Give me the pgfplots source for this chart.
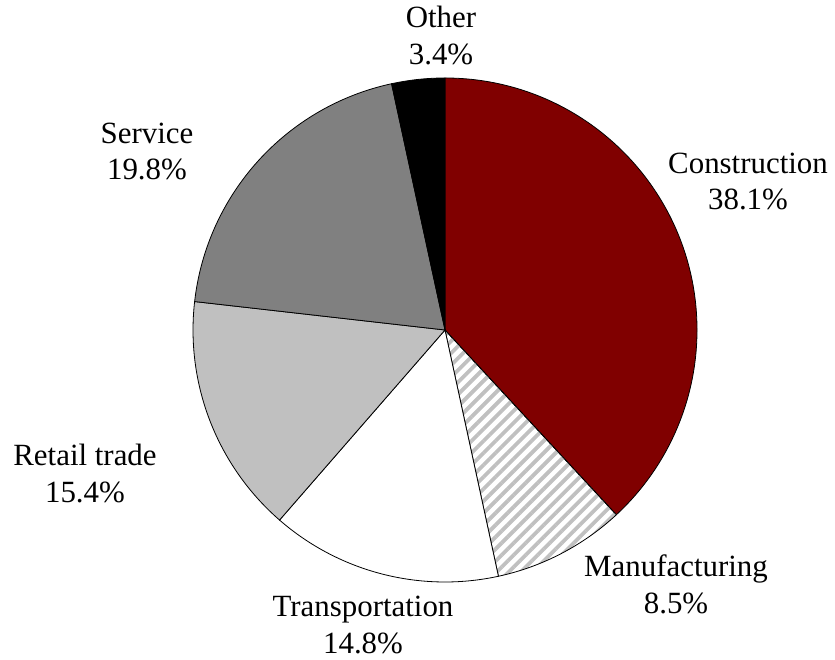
\documentclass[border=0pt]{standalone}
\usepackage{pgfplots}
\pgfplotsset{compat=1.18}
\usepackage{pgfplotstable}
\usepackage{fontspec}
\setmainfont{Liberation Serif}
\usetikzlibrary{patterns.meta}

\definecolor{maroon}{RGB}{128,0,0}
\definecolor{midgray}{RGB}{128,128,128}
\definecolor{lightgray}{RGB}{192,192,192}
\newcommand\labfont{\fontsize{31}{37}\selectfont}

% share in percent, label centre (axis units)
\pgfplotstableread[col sep=comma]{
label,pct,lx,ly
Construction,38.1,748,478.5
Manufacturing,8.5,676,76
Transportation,14.8,363,35
Retail trade,15.4,85,186.5
Service,19.8,147,508.5
Other,3.4,441,624.5
}\piedata

\tikzset{
  slice0/.style={fill=maroon},
  slice1/.style={pattern={Lines[angle=45,distance=8.5bp,line width=3.8bp]},pattern color=lightgray},
  slice2/.style={fill=white},
  slice3/.style={fill=lightgray},
  slice4/.style={fill=midgray},
  slice5/.style={fill=black},
}

\begin{document}
\begin{tikzpicture}
\begin{axis}[
  x=1bp,y=1bp,
  xmin=0,xmax=835,ymin=0,ymax=660,
  hide axis,clip=false
]
\path (axis cs:0,0) rectangle (axis cs:835,660);
\pgfplotstablegetrowsof{\piedata}
\pgfmathtruncatemacro\lastrow{\pgfplotsretval-1}
\def\cum{90}
\pgfplotsforeachungrouped \i in {0,...,\lastrow}{
  \pgfplotstablegetelem{\i}{pct}\of\piedata \let\pct\pgfplotsretval
  \pgfplotstablegetelem{\i}{label}\of\piedata \let\lab\pgfplotsretval
  \pgfplotstablegetelem{\i}{lx}\of\piedata \let\lx\pgfplotsretval
  \pgfplotstablegetelem{\i}{ly}\of\piedata \let\ly\pgfplotsretval
  \pgfmathsetmacro\endang{\cum-3.6*\pct}
  \edef\tmp{\noexpand\draw[slice\i,line width=0.8bp]
    (axis cs:445,330) -- ++(\cum:252bp)
    arc[start angle=\cum,end angle=\endang,radius=252bp] -- cycle;}
  \tmp
  \edef\tmp{\noexpand\node[align=center,font=\noexpand\labfont]
    at (axis cs:\lx,\ly) {\lab\noexpand\\\pct\noexpand\%};}
  \tmp
  \global\let\cum\endang
}
\end{axis}
\end{tikzpicture}
\end{document}
